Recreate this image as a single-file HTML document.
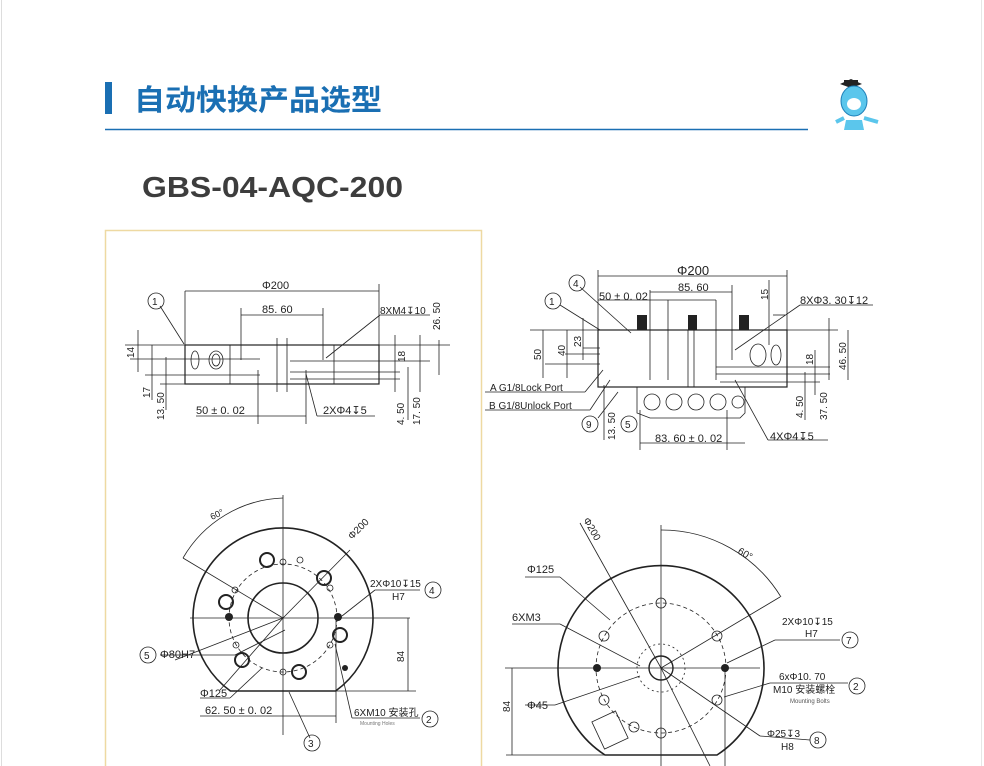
<!DOCTYPE html>
<html><head><meta charset="utf-8"><style>
html,body{margin:0;padding:0;background:#fff;width:984px;height:766px;overflow:hidden}
svg{display:block}
text{font-family:"Liberation Sans","Noto Sans CJK SC",sans-serif}
</style></head><body>
<svg width="984" height="766" viewBox="0 0 984 766" xmlns="http://www.w3.org/2000/svg">
<line x1="1.5" y1="0" x2="1.5" y2="766" stroke="#ddd"/>
<line x1="981.5" y1="0" x2="981.5" y2="766" stroke="#e6e6e6"/>
<rect x="105" y="82" width="7" height="32" fill="#1a6fb3"/>
<text x="134" y="110" font-size="29" font-weight="bold" fill="#1a6fb3" font-family="Noto Sans CJK SC,sans-serif" textLength="248" lengthAdjust="spacingAndGlyphs">自动快换产品选型</text>
<line x1="105" y1="129.5" x2="808" y2="129.5" stroke="#1a6fb3" stroke-width="1.5"/>
<g>
<rect x="844" y="80" width="14" height="4" fill="#222"/><path d="M840 84 L851 79 L862 84 L851 88Z" fill="#222"/>
<ellipse cx="854" cy="101" rx="13" ry="15" fill="#5bc6ec" stroke="#1d7fb8"/>
<ellipse cx="854" cy="104" rx="7" ry="6" fill="#fff"/>
<path d="M846 120 L862 120 L864 130 L844 130Z" fill="#5bc6ec"/>
<path d="M844 118 L836 122 M864 118 L878 122" stroke="#5bc6ec" stroke-width="4"/>
</g>
<text x="142" y="197" font-size="29" font-weight="bold" fill="#3d3d3d" textLength="261" lengthAdjust="spacingAndGlyphs">GBS-04-AQC-200</text>
<rect x="105.5" y="230.5" width="376" height="540" fill="none" stroke="#eed9a2" stroke-width="1.5"/>

<g stroke="#222" stroke-width="0.8" fill="none">
<rect x="185" y="345" width="194" height="39" stroke-width="1.2"/>
<line x1="277" y1="338" x2="277" y2="392"/><line x1="287" y1="338" x2="287" y2="392"/>
<line x1="230" y1="345" x2="230" y2="384"/><line x1="334" y1="345" x2="334" y2="384"/>
<ellipse cx="195" cy="360" rx="4" ry="9"/><ellipse cx="216" cy="360" rx="7" ry="9"/><ellipse cx="216" cy="360" rx="4" ry="6"/>
<line x1="185" y1="291" x2="185" y2="345"/><line x1="379" y1="284" x2="379" y2="345"/>
<line x1="185" y1="291" x2="379" y2="291"/>
<line x1="241" y1="308" x2="241" y2="360"/><line x1="323" y1="308" x2="323" y2="360"/>
<line x1="241" y1="315" x2="323" y2="315"/>
<line x1="125" y1="345" x2="450" y2="345"/>
<line x1="130" y1="359" x2="260" y2="359"/><line x1="290" y1="361" x2="430" y2="361"/>
<line x1="145" y1="375" x2="260" y2="375"/><line x1="290" y1="372" x2="400" y2="372"/>
<line x1="160" y1="384" x2="260" y2="384"/><line x1="290" y1="379" x2="400" y2="379"/>
<line x1="138" y1="330" x2="138" y2="372"/><line x1="152" y1="345" x2="152" y2="400"/><line x1="166" y1="357" x2="166" y2="410"/>
<line x1="395" y1="335" x2="395" y2="392"/><line x1="420" y1="335" x2="420" y2="392"/><line x1="439" y1="340" x2="439" y2="375"/><line x1="408" y1="367" x2="408" y2="420"/>
<line x1="258" y1="370" x2="258" y2="424"/><line x1="306" y1="370" x2="306" y2="424"/>
<line x1="258" y1="416" x2="306" y2="416"/>
<line x1="196" y1="416" x2="258" y2="416"/>
<line x1="184" y1="344" x2="160" y2="306"/>
<line x1="326" y1="358" x2="380" y2="315"/><line x1="380" y1="315" x2="430" y2="315"/>
<line x1="306" y1="374" x2="317" y2="416"/><line x1="317" y1="416" x2="375" y2="416"/>
<circle cx="156" cy="301" r="8"/>
</g>
<g font-size="11" fill="#222">
<text x="262" y="289">Φ200</text><text x="262" y="313">85. 60</text>
<text x="380" y="314" font-size="10">8XM4↧10</text>
<text x="152" y="305" font-size="10">1</text>
<text x="196" y="414">50 ± 0. 02</text><text x="323" y="414">2XΦ4↧5</text>
<text transform="translate(134,358) rotate(-90)" font-size="10">14</text>
<text transform="translate(150,398) rotate(-90)" font-size="10">17</text>
<text transform="translate(164,420) rotate(-90)" font-size="10">13. 50</text>
<text transform="translate(440,330) rotate(-90)" font-size="10">26. 50</text>
<text transform="translate(405,362) rotate(-90)" font-size="10">18</text>
<text transform="translate(404,425) rotate(-90)" font-size="10">4. 50</text>
<text transform="translate(420,425) rotate(-90)" font-size="10">17. 50</text>
</g>

<g stroke="#222" stroke-width="0.8" fill="none">
<rect x="598" y="330" width="189" height="57" stroke-width="1.2"/>
<path d="M637 387 L637 413 L650 418 L740 418 L745 413 L745 387" />
<circle cx="652" cy="402" r="8"/><circle cx="674" cy="402" r="8"/><circle cx="696" cy="402" r="8"/><circle cx="718" cy="402" r="8"/><circle cx="738" cy="402" r="6"/>
<line x1="688" y1="330" x2="688" y2="387"/><line x1="694" y1="330" x2="694" y2="387"/>
<ellipse cx="758" cy="355" rx="8" ry="11"/><ellipse cx="776" cy="355" rx="5" ry="10"/>
<line x1="598" y1="270" x2="598" y2="330"/><line x1="787" y1="270" x2="787" y2="330"/>
<line x1="598" y1="276" x2="787" y2="276"/>
<line x1="650" y1="290" x2="650" y2="380"/><line x1="732" y1="285" x2="732" y2="360"/>
<line x1="650" y1="292" x2="732" y2="292"/>
<line x1="668" y1="300" x2="668" y2="380"/><line x1="716" y1="300" x2="716" y2="380"/>
<line x1="598" y1="300" x2="716" y2="300"/>
<line x1="530" y1="330" x2="838" y2="330"/>
<line x1="545" y1="364" x2="600" y2="364"/><line x1="565" y1="354" x2="600" y2="354"/><line x1="583" y1="348" x2="600" y2="348"/>
<line x1="716" y1="367" x2="830" y2="367"/><line x1="716" y1="374" x2="830" y2="374"/><line x1="720" y1="382" x2="820" y2="382"/>
<line x1="773" y1="315" x2="785" y2="315"/>
<line x1="543" y1="330" x2="543" y2="378"/><line x1="567" y1="330" x2="567" y2="378"/><line x1="583" y1="318" x2="583" y2="360"/>
<line x1="604" y1="385" x2="604" y2="440"/>
<line x1="769" y1="280" x2="769" y2="345"/>
<line x1="815" y1="350" x2="815" y2="395"/><line x1="805" y1="372" x2="805" y2="420"/><line x1="829" y1="318" x2="829" y2="380"/><line x1="848" y1="330" x2="848" y2="380"/>
<line x1="640" y1="410" x2="640" y2="450"/><line x1="727" y1="410" x2="727" y2="450"/>
<line x1="640" y1="443" x2="745" y2="443"/>
<line x1="600" y1="330" x2="560" y2="305"/><line x1="631" y1="333" x2="580" y2="287"/>
<line x1="735" y1="350" x2="800" y2="305"/><line x1="800" y1="305" x2="873" y2="305"/>
<line x1="735" y1="380" x2="768" y2="440"/><line x1="768" y1="440" x2="828" y2="440"/>
<line x1="603" y1="370" x2="585" y2="392"/><line x1="485" y1="392" x2="585" y2="392"/>
<line x1="610" y1="380" x2="590" y2="410"/><line x1="485" y1="410" x2="590" y2="410"/>
<line x1="618" y1="392" x2="598" y2="418"/>
<circle cx="553" cy="301" r="8"/><circle cx="577" cy="283" r="8"/><circle cx="590" cy="424" r="8"/><circle cx="629" cy="424" r="8"/>
</g>
<rect x="637" y="315" width="10" height="15" fill="#222"/><rect x="688" y="315" width="9" height="15" fill="#222"/><rect x="739" y="315" width="10" height="15" fill="#222"/>
<g font-size="11" fill="#222">
<text x="677" y="275" font-size="13">Φ200</text><text x="678" y="291">85. 60</text><text x="599" y="300">50 ± 0. 02</text>
<text x="800" y="304">8XΦ3. 30↧12</text>
<text x="549" y="305" font-size="10">1</text><text x="573" y="287" font-size="10">4</text><text x="586" y="428" font-size="10">9</text><text x="625" y="428" font-size="10">5</text>
<text x="490" y="391" font-size="10">A  G1/8Lock  Port</text>
<text x="489" y="409" font-size="10">B  G1/8Unlock  Port</text>
<text x="655" y="442">83. 60 ± 0. 02</text><text x="770" y="440">4XΦ4↧5</text>
<text transform="translate(541,360) rotate(-90)" font-size="10">50</text>
<text transform="translate(565,356) rotate(-90)" font-size="10">40</text>
<text transform="translate(581,347) rotate(-90)" font-size="10">23</text>
<text transform="translate(768,300) rotate(-90)" font-size="10">15</text>
<text transform="translate(813,365) rotate(-90)" font-size="10">18</text>
<text transform="translate(846,370) rotate(-90)" font-size="10">46. 50</text>
<text transform="translate(803,418) rotate(-90)" font-size="10">4. 50</text>
<text transform="translate(827,420) rotate(-90)" font-size="10">37. 50</text>
<text transform="translate(615,440) rotate(-90)" font-size="10">13. 50</text>
</g>

<g stroke="#222" stroke-width="0.8" fill="none">
<path d="M230.4 691 A90 90 0 1 1 335.6 691 Z" stroke-width="1.6"/>
<circle cx="283" cy="618" r="35" stroke-width="1.6"/>
<circle cx="283" cy="618" r="54" stroke-dasharray="4 3"/>
<line x1="283" y1="495" x2="283" y2="735"/><line x1="190" y1="618" x2="410" y2="618"/>
<line x1="283" y1="618" x2="183" y2="558"/><line x1="283" y1="618" x2="350" y2="550"/>
<line x1="283" y1="618" x2="220" y2="690"/><line x1="283" y1="618" x2="175" y2="660"/>
<path d="M183 558 A120 120 0 0 1 283 498"/>
<line x1="336" y1="618" x2="336" y2="723"/><line x1="330" y1="691" x2="416" y2="691"/>
<line x1="408" y1="618" x2="408" y2="691"/>
<line x1="200" y1="716" x2="336" y2="716"/>
<line x1="289" y1="692" x2="310" y2="738"/>
<line x1="335" y1="644" x2="352" y2="718"/><line x1="352" y1="718" x2="420" y2="718"/>
<line x1="375" y1="590" x2="420" y2="590"/><line x1="375" y1="590" x2="342" y2="616"/>
<line x1="160" y1="655" x2="235" y2="655"/><line x1="235" y1="655" x2="285" y2="630"/>
<line x1="200" y1="698" x2="230" y2="698"/><line x1="230" y1="698" x2="262" y2="668"/>
<circle cx="267" cy="560" r="7" stroke-width="2"/><circle cx="324" cy="578" r="7" stroke-width="2"/><circle cx="226" cy="602" r="7" stroke-width="2"/>
<circle cx="340" cy="635" r="7" stroke-width="2"/><circle cx="242" cy="660" r="7" stroke-width="2"/><circle cx="299" cy="672" r="7" stroke-width="2"/>
<circle cx="283" cy="562" r="3"/><circle cx="300" cy="560" r="3"/><circle cx="235" cy="590" r="3"/><circle cx="330" cy="588" r="3"/><circle cx="236" cy="645" r="3"/><circle cx="330" cy="645" r="3"/><circle cx="283" cy="672" r="3"/>
<circle cx="148" cy="655" r="8"/><circle cx="433" cy="590" r="8"/><circle cx="430" cy="719" r="8"/><circle cx="312" cy="743" r="8"/>
</g>
<circle cx="229" cy="617" r="4" fill="#222"/><circle cx="338" cy="617" r="4" fill="#222"/><circle cx="345" cy="668" r="3" fill="#222"/>
<g font-size="11" fill="#222">
<text transform="translate(212,520) rotate(-25)" font-size="9">60°</text>
<text transform="translate(352,540) rotate(-45)" font-size="10">Φ200</text>
<text x="370" y="587" font-size="10">2XΦ10↧15</text><text x="392" y="600" font-size="10">H7</text>
<text x="429" y="594" font-size="10">4</text><text x="144" y="659" font-size="10">5</text>
<text x="160" y="658">Φ80H7</text><text x="200" y="697">Φ125</text>
<text transform="translate(404,662) rotate(-90)" font-size="10">84</text>
<text x="205" y="714">62. 50 ± 0. 02</text>
<text x="354" y="716" font-size="10">6XM10 安装孔</text>
<text x="360" y="725" font-size="5" fill="#777">Mounting Holes</text>
<text x="426" y="723" font-size="10">2</text><text x="308" y="747" font-size="10">3</text>
</g>

<g stroke="#222" stroke-width="0.8" fill="none">
<path d="M605 755 A103 103 0 1 1 717 755 Z" stroke-width="1.6"/>
<circle cx="661" cy="668" r="65" stroke-dasharray="4 3"/>
<circle cx="661" cy="668" r="12" stroke-width="1.4"/>
<circle cx="661" cy="668" r="24" stroke-dasharray="2 3"/>
<line x1="661" y1="525" x2="661" y2="766"/><line x1="505" y1="668" x2="760" y2="668"/>
<line x1="661" y1="668" x2="780" y2="597"/><line x1="661" y1="668" x2="580" y2="523"/>
<line x1="661" y1="668" x2="710" y2="766"/><line x1="661" y1="668" x2="760" y2="736"/>
<path d="M661 530 A140 140 0 0 1 781 597"/>
<line x1="506" y1="755" x2="605" y2="755"/><line x1="512" y1="668" x2="512" y2="755"/>
<line x1="725" y1="668" x2="725" y2="766"/>
<line x1="525" y1="577" x2="560" y2="577"/><line x1="560" y1="577" x2="610" y2="620"/>
<line x1="512" y1="624" x2="560" y2="624"/><line x1="560" y1="624" x2="640" y2="666"/>
<line x1="525" y1="705" x2="555" y2="705"/><line x1="555" y1="705" x2="640" y2="676"/>
<line x1="727" y1="663" x2="775" y2="640"/><line x1="775" y1="640" x2="840" y2="640"/>
<line x1="724" y1="697" x2="770" y2="683"/><line x1="770" y1="683" x2="848" y2="683"/>
<line x1="760" y1="736" x2="810" y2="740"/>
<circle cx="661" cy="603" r="5"/><circle cx="717" cy="636" r="5"/><circle cx="604" cy="636" r="5"/><circle cx="604" cy="700" r="5"/><circle cx="717" cy="700" r="5"/><circle cx="661" cy="733" r="5"/><circle cx="634" cy="727" r="5"/>
<circle cx="850" cy="640" r="8"/><circle cx="857" cy="686" r="8"/><circle cx="818" cy="740" r="8"/>
<rect x="597" y="715" width="26" height="30" transform="rotate(-25 610 730)"/>
</g>
<circle cx="597" cy="668" r="4" fill="#222"/><circle cx="725" cy="668" r="4" fill="#222"/>
<g font-size="11" fill="#222">
<text transform="translate(583,520) rotate(60)" font-size="10">Φ200</text>
<text transform="translate(737,553) rotate(30)" font-size="10">60°</text>
<text x="527" y="573">Φ125</text><text x="512" y="621">6XM3</text><text x="527" y="709">Φ45</text>
<text x="782" y="625" font-size="10">2XΦ10↧15</text><text x="805" y="637" font-size="10">H7</text>
<text x="846" y="644" font-size="10">7</text>
<text x="779" y="680" font-size="10">6xΦ10. 70</text><text x="773" y="693" font-size="10">M10 安装螺栓</text>
<text x="790" y="703" font-size="6" fill="#555">Mounting Bolts</text>
<text x="853" y="690" font-size="10">2</text>
<text x="767" y="737" font-size="10">Φ25↧3</text><text x="781" y="750" font-size="10">H8</text>
<text x="814" y="744" font-size="10">8</text>
<text transform="translate(510,712) rotate(-90)" font-size="10">84</text>
</g>
</svg>
</body></html>
